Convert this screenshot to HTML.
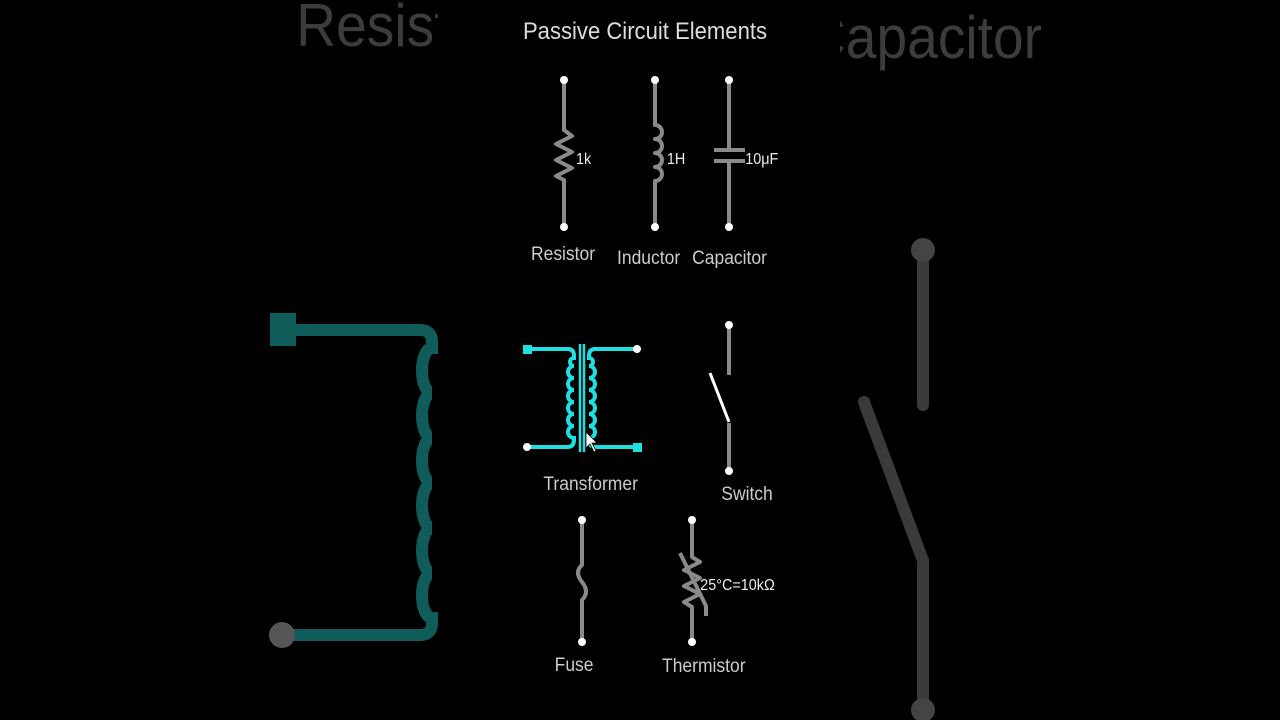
<!DOCTYPE html>
<html><head><meta charset="utf-8"><style>
html,body{margin:0;padding:0;background:#000;width:1280px;height:720px;overflow:hidden}
svg{display:block}
text{font-family:"Liberation Sans",sans-serif}
</style></head><body>
<svg width="1280" height="720" viewBox="0 0 1280 720" xmlns="http://www.w3.org/2000/svg">
<rect width="1280" height="720" fill="#000"/>
<defs><clipPath id="cl"><rect x="0" y="0" width="438" height="720"/></clipPath>
<clipPath id="cr"><rect x="840" y="0" width="440" height="720"/></clipPath></defs>
<g clip-path="url(#cl)">
<text x="296" y="46" font-size="60" fill="#3c3c3c" transform="scale(0.92,1) translate(26,0)">Resistor</text>
<rect x="270" y="313" width="26" height="33" fill="#0f5c5a"/>
<path d="M296 330 H420 Q432 330 432 342 V348 A10 22.5 0 0 0 432 393 A10 22.5 0 0 0 432 438 A10 22.5 0 0 0 432 483 A10 22.5 0 0 0 432 528 A10 22.5 0 0 0 432 573 A10 22.5 0 0 0 432 618 V623 Q432 635 420 635 H282" fill="none" stroke="#0f5c5a" stroke-width="12"/>
<circle cx="282" cy="635" r="13" fill="#555"/>
</g>
<g clip-path="url(#cr)">
<text x="800" y="58" font-size="60" fill="#3c3c3c" transform="scale(0.92,1) translate(76,0)">Capacitor</text>
<g stroke="#3a3a3a" stroke-width="12" stroke-linecap="round" fill="none">
<line x1="923" y1="250" x2="923" y2="405"/>
<line x1="864" y1="402" x2="922" y2="558"/>
<line x1="923" y1="560" x2="923" y2="710"/>
</g>
<circle cx="923" cy="250" r="12" fill="#444"/>
<circle cx="923" cy="710" r="12" fill="#444"/>
</g>
<text x="645" y="39" font-size="24" fill="#ddd" text-anchor="middle" transform="translate(645,0) scale(0.92,1) translate(-645,0)">Passive Circuit Elements</text>
<g stroke="#8a8a8a" stroke-width="4" fill="none" stroke-linejoin="round">
<path d="M564 80 V130 L572 136 L556 144 L572 152 L556 160 L572 168 L556 176 L564 180 V227"/>
<path d="M655 80 V125 A7 7 0 0 1 655 139 A7 7 0 0 1 655 153 A7 7 0 0 1 655 167 A7 7 0 0 1 655 181 V227"/>
<path d="M729 80 V150 M729 161 V227"/>
<path d="M714 150 H745 M714 161 H745"/>
<path d="M729 325 V375 M729 423 V471"/>
<path d="M582 520 V565 Q574 572 582 582 Q590 592 582 600 V642"/>
<path d="M692 520 V557 L700 562 L684 570 L700 578 L684 586 L700 594 L684 602 L692 607 V642"/>
<path d="M680 553 L706 606 V616"/>
</g>
<line x1="710" y1="373" x2="729" y2="422" stroke="#fff" stroke-width="3"/>
<g fill="#fff">
<circle cx="564" cy="80" r="4"/><circle cx="564" cy="227" r="4"/>
<circle cx="655" cy="80" r="4"/><circle cx="655" cy="227" r="4"/>
<circle cx="729" cy="80" r="4"/><circle cx="729" cy="227" r="4"/>
<circle cx="729" cy="325" r="4"/><circle cx="729" cy="471" r="4"/>
<circle cx="582" cy="520" r="4"/><circle cx="582" cy="642" r="4"/>
<circle cx="692" cy="520" r="4"/><circle cx="692" cy="642" r="4"/>
</g>
<g stroke="#1de0e0" stroke-width="4" fill="none">
<path d="M527 349 H568 Q574 349 574 356 V358 A4 4 0 0 0 574 366 A6 6 0 0 0 574 378 A6 6 0 0 0 574 390 A6 6 0 0 0 574 402 A6 6 0 0 0 574 414 A6 6 0 0 0 574 426 A6 6 0 0 0 574 438 V440 Q574 447 567 447 H527"/>
<path d="M637 349 H595 Q589 349 589 356 V358 A4 4 0 0 1 589 366 A6 6 0 0 1 589 378 A6 6 0 0 1 589 390 A6 6 0 0 1 589 402 A6 6 0 0 1 589 414 A6 6 0 0 1 589 426 A6 6 0 0 1 589 438 V440 Q589 447 596 447 H637"/>
<path d="M580 344 V452 M584 344 V452" stroke-width="2.5"/>
</g>
<rect x="523" y="345" width="9" height="9" fill="#1de0e0"/>
<rect x="633" y="443" width="9" height="9" fill="#1de0e0"/>
<circle cx="637" cy="349" r="4" fill="#fff"/>
<circle cx="527" cy="447" r="4" fill="#fff"/>
<path d="M586 432 L586 448 L590 444 L594 452 L596 451 L592 443 L597 443 Z" fill="#fff" stroke="#000" stroke-width="0.8"/>
<g fill="#ccc" font-size="19">
<g transform="scale(0.92,1)">
<text x="612" y="260" text-anchor="middle">Resistor</text>
<text x="705" y="264" text-anchor="middle">Inductor</text>
<text x="793" y="264" text-anchor="middle">Capacitor</text>
<text x="642" y="490" text-anchor="middle">Transformer</text>
<text x="812" y="500" text-anchor="middle">Switch</text>
<text x="624" y="671" text-anchor="middle">Fuse</text>
<text x="765" y="672" text-anchor="middle">Thermistor</text>
</g>
</g>
<g fill="#eee" font-size="16" transform="scale(0.9,1)">
<text x="640" y="164">1k</text>
<text x="741" y="164">1H</text>
<text x="828" y="164">10μF</text>
<text x="778" y="590">25°C=10kΩ</text>
</g>
</svg>
</body></html>
